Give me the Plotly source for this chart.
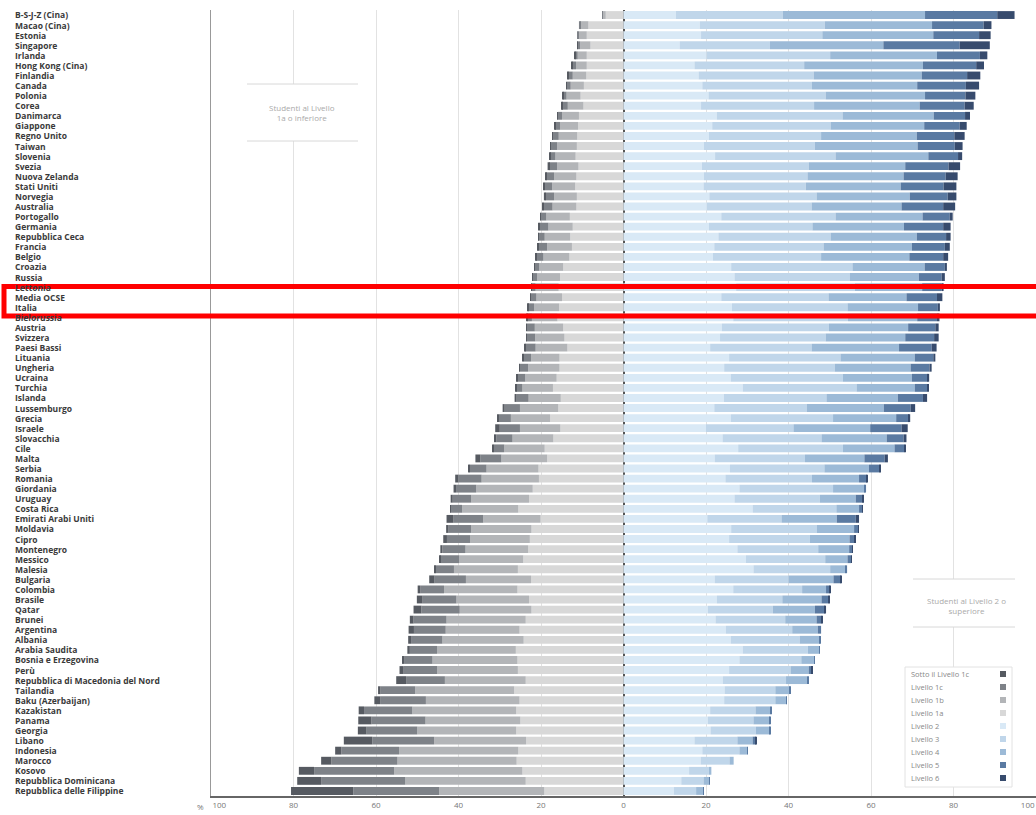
import plotly.graph_objects as go

countries = [
    "B-S-J-Z (Cina)", "Macao (Cina)", "Estonia", "Singapore", "Irlanda",
    "Hong Kong (Cina)", "Finlandia", "Canada", "Polonia", "Corea",
    "Danimarca", "Giappone", "Regno Unito", "Taiwan", "Slovenia",
    "Svezia", "Nuova Zelanda", "Stati Uniti", "Norvegia", "Australia",
    "Portogallo", "Germania", "Repubblica Ceca", "Francia", "Belgio",
    "Croazia", "Russia", "Lettonia", "Media OCSE", "Italia",
    "Bielorussia", "Austria", "Svizzera", "Paesi Bassi", "Lituania",
    "Ungheria", "Ucraina", "Turchia", "Islanda", "Lussemburgo",
    "Grecia", "Israele", "Slovacchia", "Cile", "Malta",
    "Serbia", "Romania", "Giordania", "Uruguay", "Costa Rica",
    "Emirati Arabi Uniti", "Moldavia", "Cipro", "Montenegro", "Messico",
    "Malesia", "Bulgaria", "Colombia", "Brasile", "Qatar",
    "Brunei", "Argentina", "Albania", "Arabia Saudita", "Bosnia e Erzegovina",
    "Perù", "Repubblica di Macedonia del Nord", "Tailandia", "Baku (Azerbaijan)", "Kazakistan",
    "Panama", "Georgia", "Libano", "Indonesia", "Marocco",
    "Kosovo", "Repubblica Dominicana", "Repubblica delle Filippine",
]

# percentuali per livello (sotto il livello 2 -> lato sinistro)
below_1c = [
    0.0, 0.0, 0.0, 0.1, 0.1, 0.2, 0.2, 0.1, 0.1, 0.2,
    0.1, 0.2, 0.2, 0.2, 0.1, 0.4, 0.3, 0.2, 0.4, 0.3,
    0.1, 0.4, 0.1, 0.3, 0.1, 0.1, 0.1, 0.1, 0.1, 0.2,
    0.1, 0.2, 0.2, 0.3, 0.2, 0.2, 0.2, 0.1, 0.5, 0.5,
    0.3, 1.1, 0.6, 0.2, 1.2, 0.4, 0.8, 0.6, 0.5, 0.1,
    1.7, 0.6, 0.9, 0.5, 0.3, 0.3, 1.3, 0.6, 1.4, 1.9,
    0.9, 1.3, 0.7, 0.6, 0.5, 1.0, 2.4, 0.6, 1.4, 1.3,
    3.2, 2.0, 6.9, 1.5, 2.5, 3.7, 5.8, 15.1,
]
level_1c = [
    0.1, 0.3, 0.3, 0.6, 0.6, 0.9, 1.0, 0.9, 0.8, 1.4,
    1.0, 1.2, 1.4, 1.5, 1.3, 1.9, 1.9, 1.8, 2.1, 2.1,
    1.4, 2.1, 1.5, 2.1, 1.8, 1.1, 1.1, 1.0, 1.4, 1.4,
    1.1, 1.9, 2.0, 2.5, 1.8, 2.0, 1.9, 1.5, 2.9, 3.7,
    2.9, 4.9, 3.9, 2.6, 5.1, 4.1, 5.6, 4.9, 4.5, 2.8,
    7.2, 5.5, 5.6, 5.6, 4.6, 4.4, 7.6, 5.8, 8.2, 9.3,
    8.0, 7.7, 7.6, 6.6, 6.9, 8.1, 9.4, 8.4, 11.1, 11.7,
    13.1, 12.4, 15.0, 14.0, 16.0, 19.4, 20.4, 20.8,
]
level_1b = [
    0.8, 2.0, 1.9, 2.5, 2.2, 2.6, 3.3, 3.2, 3.4, 3.8,
    4.1, 4.4, 4.5, 4.8, 4.9, 5.2, 5.4, 5.6, 5.5, 5.8,
    5.7, 5.9, 6.2, 6.0, 6.3, 5.8, 5.5, 5.6, 6.2, 6.1,
    6.2, 6.9, 7.1, 7.7, 6.9, 7.6, 7.6, 7.4, 7.8, 9.3,
    9.5, 9.8, 9.9, 9.8, 11.1, 12.6, 13.9, 13.7, 14.0, 13.6,
    13.9, 14.6, 14.5, 15.2, 15.5, 15.5, 15.8, 17.8, 17.6, 17.4,
    19.2, 17.9, 19.7, 19.1, 20.6, 19.6, 19.6, 24.0, 22.7, 25.2,
    23.0, 24.0, 22.3, 28.9, 28.9, 31.1, 29.2, 25.5,
]
level_1a = [
    4.3, 8.5, 8.9, 8.0, 8.9, 8.9, 9.0, 9.6, 10.4, 9.7,
    10.8, 11.0, 11.2, 11.3, 11.6, 10.9, 11.4, 11.7, 11.3, 11.4,
    13.0, 12.3, 12.9, 12.5, 13.1, 14.6, 15.4, 15.7, 14.9, 15.6,
    16.0, 14.6, 14.3, 13.6, 15.5, 15.5, 16.2, 17.1, 15.2, 15.8,
    17.8, 15.3, 17.0, 19.1, 18.5, 20.6, 20.5, 22.0, 22.9, 25.5,
    20.1, 22.3, 22.7, 23.1, 24.3, 25.6, 22.4, 25.7, 22.9, 22.3,
    23.7, 25.2, 24.2, 26.1, 25.7, 25.6, 23.7, 26.5, 25.2, 26.0,
    25.0, 26.0, 23.6, 25.5, 25.9, 24.5, 23.7, 19.2,
]
# livello 2 o superiore -> lato destro
level_2 = [
    12.7, 18.5, 18.8, 13.6, 20.1, 17.2, 18.2, 19.1, 20.6, 18.8,
    22.6, 21.5, 20.7, 19.5, 22.2, 19.0, 19.5, 19.4, 20.8, 20.2,
    23.7, 20.7, 23.0, 22.0, 21.7, 26.1, 26.9, 27.3, 23.7, 26.3,
    26.6, 23.8, 23.4, 21.0, 25.6, 24.4, 26.0, 28.9, 24.3, 22.0,
    26.0, 20.0, 24.0, 27.8, 22.1, 25.8, 24.7, 28.1, 26.9, 31.3,
    20.3, 26.1, 25.6, 27.6, 29.7, 31.5, 22.1, 26.6, 22.6, 20.4,
    22.3, 24.8, 26.0, 28.9, 28.1, 25.6, 24.1, 24.5, 24.4, 21.0,
    20.4, 21.1, 17.2, 19.1, 18.7, 15.9, 14.0, 12.2,
]
level_3 = [
    25.9, 30.3, 29.4, 21.9, 30.0, 26.6, 27.9, 26.6, 28.4, 27.4,
    30.5, 28.7, 27.2, 26.9, 29.2, 25.9, 25.1, 24.8, 26.0, 25.4,
    27.7, 25.1, 27.2, 26.5, 26.2, 29.4, 28.0, 28.8, 26.0, 28.0,
    27.8, 26.0, 25.6, 24.6, 27.0, 26.8, 27.2, 27.6, 24.9, 22.4,
    24.8, 21.2, 24.0, 25.4, 21.9, 22.9, 21.0, 22.7, 20.7, 20.3,
    18.0, 20.8, 19.6, 19.6, 19.2, 18.6, 17.9, 16.7, 15.9, 15.8,
    16.9, 16.1, 16.7, 15.8, 15.0, 14.9, 15.3, 12.3, 12.4, 11.0,
    11.1, 11.0, 10.4, 9.0, 7.0, 4.8, 5.4, 5.4,
]
level_4 = [
    34.5, 26.0, 26.9, 27.5, 25.9, 28.8, 26.2, 25.5, 24.1, 25.6,
    22.1, 22.7, 23.2, 24.9, 22.5, 23.4, 23.3, 23.0, 22.6, 21.8,
    21.1, 22.2, 20.9, 21.4, 21.4, 17.5, 16.7, 16.3, 18.9, 17.1,
    16.8, 19.2, 19.3, 21.2, 18.0, 18.4, 16.7, 14.1, 17.3, 18.7,
    15.3, 18.6, 15.8, 12.5, 14.4, 10.8, 11.4, 7.7, 8.7, 5.5,
    13.4, 9.0, 9.6, 7.5, 5.4, 3.7, 10.9, 5.8, 9.5, 10.2,
    7.6, 6.2, 4.9, 2.8, 3.1, 4.4, 5.1, 3.5, 2.7, 3.6,
    4.0, 3.4, 3.7, 1.9, 1.0, 0.6, 1.4, 1.7,
]
level_5 = [
    17.5, 12.5, 11.1, 18.5, 10.4, 12.9, 11.0, 11.8, 9.8, 10.9,
    7.6, 8.6, 9.1, 9.0, 7.2, 10.5, 10.2, 10.4, 9.2, 10.1,
    6.6, 9.5, 7.1, 8.0, 8.2, 4.9, 5.5, 4.7, 7.4, 4.8,
    4.8, 6.6, 7.0, 7.9, 4.5, 4.6, 3.8, 3.0, 6.1, 6.5,
    3.1, 7.6, 4.1, 2.4, 4.9, 2.5, 1.9, 0.3, 1.6, 0.8,
    4.6, 1.0, 1.3, 0.8, 0.9, 0.4, 1.8, 0.9, 1.6, 2.4,
    1.2, 0.8, 0.2, 0.1, 0.1, 0.7, 0.4, 0.2, 0.1, 0.2,
    0.2, 0.1, 0.8, 0.1, 0.0, 0.0, 0.1, 0.1,
]
level_6 = [
    4.2, 1.9, 2.8, 7.3, 1.8, 1.9, 3.2, 3.2, 2.4, 2.2,
    1.2, 1.7, 2.5, 1.9, 1.0, 2.8, 2.9, 3.1, 2.1, 2.9,
    0.7, 1.8, 1.1, 1.2, 1.2, 0.5, 0.8, 0.5, 1.3, 0.5,
    0.6, 0.8, 1.1, 1.2, 0.5, 0.5, 0.4, 0.3, 1.0, 1.1,
    0.3, 1.5, 0.7, 0.2, 0.8, 0.3, 0.2, 0.0, 0.2, 0.1,
    0.8, 0.1, 0.2, 0.1, 0.1, 0.0, 0.2, 0.1, 0.3, 0.3,
    0.2, 0.0, 0.0, 0.0, 0.0, 0.1, 0.0, 0.0, 0.0, 0.0,
    0.0, 0.0, 0.1, 0.0, 0.0, 0.0, 0.0, 0.0,
]

legend_labels = [
    "Sotto il Livello 1c", "Livello 1c", "Livello 1b", "Livello 1a",
    "Livello 2", "Livello 3", "Livello 4", "Livello 5", "Livello 6",
]
tick_vals = [-100, -80, -60, -40, -20, 0, 20, 40, 60, 80, 100]
nb = "\u00a0" * 8
tick_text = [nb + "100", "80", "60", "40", "20", "0", "20", "40", "60", "80", "100" + nb]

colors = {
    "Sotto il Livello 1c": "#565a61",
    "Livello 1c": "#7e8288",
    "Livello 1b": "#b3b5b8",
    "Livello 1a": "#d8d8d8",
    "Livello 2": "#d9e9f6",
    "Livello 3": "#c0d6ea",
    "Livello 4": "#9cbad7",
    "Livello 5": "#5a7aa2",
    "Livello 6": "#374b6d",
}

# pixel -> paper (plot area 211..1036 x 10..796)
L, R, T, B = 211, 1036, 10, 796


def px(x):
    return (x - L) / (R - L)


def py(y):
    return (B - y) / (B - T)


fig = go.Figure()

# left side stacks outward from zero: 1a, 1b, 1c, below 1c
left = [("Livello 1a", level_1a), ("Livello 1b", level_1b),
        ("Livello 1c", level_1c), ("Sotto il Livello 1c", below_1c)]
for name, vals in left:
    fig.add_trace(go.Bar(
        y=countries, x=[-v for v in vals], orientation="h", name=name,
        marker=dict(color=colors[name], line_width=0), showlegend=False,
        customdata=vals, hovertemplate="%{y}: %{customdata}%<extra>" + name + "</extra>",
    ))

right = [("Livello 2", level_2), ("Livello 3", level_3), ("Livello 4", level_4),
         ("Livello 5", level_5), ("Livello 6", level_6)]
for name, vals in right:
    fig.add_trace(go.Bar(
        y=countries, x=vals, orientation="h", name=name,
        marker=dict(color=colors[name], line_width=0), showlegend=False,
        hovertemplate="%{y}: %{x}%<extra>" + name + "</extra>",
    ))

annotations = []
# country labels, left aligned
for c in countries:
    annotations.append(dict(
        x=px(13), xref="paper", y=c, yref="y", text="<b>" + c + "</b>",
        showarrow=False, xanchor="left", yanchor="middle",
        font=dict(size=8.5, color="#3a3a3a"),
    ))

annotations.append(dict(x=px(206), xref="paper", y=py(806), yref="paper", text="%",
                        showarrow=False, xanchor="right", yanchor="middle",
                        font=dict(size=8, color="#777777")))
annotations.append(dict(x=px(302), xref="paper", y=py(113), yref="paper",
                        text="Studenti al Livello<br>1a o inferiore", showarrow=False,
                        xanchor="center", yanchor="middle",
                        font=dict(size=8, color="#aaaaaa")))
annotations.append(dict(x=px(966), xref="paper", y=py(605), yref="paper",
                        text="Studenti al Livello 2 o<br>superiore", showarrow=False,
                        xanchor="center", yanchor="middle",
                        font=dict(size=8, color="#aaaaaa")))

shapes = []
# boxes behind the two notes
for x0, x1, y0, y1 in [(247, 358, 84, 141), (913, 1015, 579, 627)]:
    shapes.append(dict(type="rect", xref="paper", yref="paper", x0=px(x0), x1=px(x1),
                       y0=py(y0), y1=py(y1), fillcolor="white", line_width=0, layer="above"))
    for yy in (y0, y1):
        shapes.append(dict(type="line", xref="paper", yref="paper", x0=px(x0), x1=px(x1),
                           y0=py(yy), y1=py(yy), line=dict(color="#d8d8d8", width=1)))

# custom legend: text left, swatch right
shapes.append(dict(type="rect", xref="paper", yref="paper", x0=px(905), x1=px(1012),
                   y0=py(667), y1=py(787), fillcolor="white",
                   line=dict(color="#e2e2e2", width=1), layer="above"))
for i, name in enumerate(legend_labels):
    yc = 674 + i * 13
    annotations.append(dict(x=px(909), xref="paper", y=py(yc), yref="paper", text=name,
                            showarrow=False, xanchor="left", yanchor="middle",
                            font=dict(size=7.5, color="#888888")))
    shapes.append(dict(type="rect", xref="paper", yref="paper", x0=px(1000), x1=px(1006),
                       y0=py(yc - 3), y1=py(yc + 3), fillcolor=colors[name], line_width=0,
                       layer="above"))

# red highlight box
i_oecd = countries.index("Media OCSE")
i_ita = countries.index("Italia")
shapes.append(dict(type="rect", xref="paper", yref="y", x0=px(4), x1=1.02,
                   y0=i_oecd - 1.07, y1=i_ita + 0.86,
                   line=dict(color="#ff0000", width=5), layer="above"))

fig.update_layout(
    width=1036, height=815,
    margin=dict(l=L, r=0, t=T, b=815 - B, autoexpand=False),
    barmode="relative", bargap=0.22,
    plot_bgcolor="white", paper_bgcolor="white",
    font=dict(family="Open Sans, Noto Sans, sans-serif"),
    showlegend=False,
    annotations=annotations, shapes=shapes,
    xaxis=dict(
        range=[-100, 100], tickvals=tick_vals, ticktext=tick_text,
        tickfont=dict(size=8, color="#777777"), ticklabeloverflow="allow",
        automargin=False,
        showgrid=True, gridcolor="#e2e2e2", gridwidth=1,
        zeroline=True, zerolinecolor="#555555", zerolinewidth=1.5,
        showline=True, linecolor="#666666", linewidth=2, ticks="",
    ),
    yaxis=dict(
        type="category", categoryorder="array", categoryarray=countries,
        range=[len(countries) - 0.5, -0.5], showticklabels=False, automargin=False,
        showgrid=False, showline=True, linecolor="#999999", linewidth=1,
    ),
)

fig.write_html(
    "out.html",
    config={"displayModeBar": False},
    post_script="document.body.style.margin='0';document.body.style.overflow='hidden';"
                "document.documentElement.style.overflow='hidden';",
)
